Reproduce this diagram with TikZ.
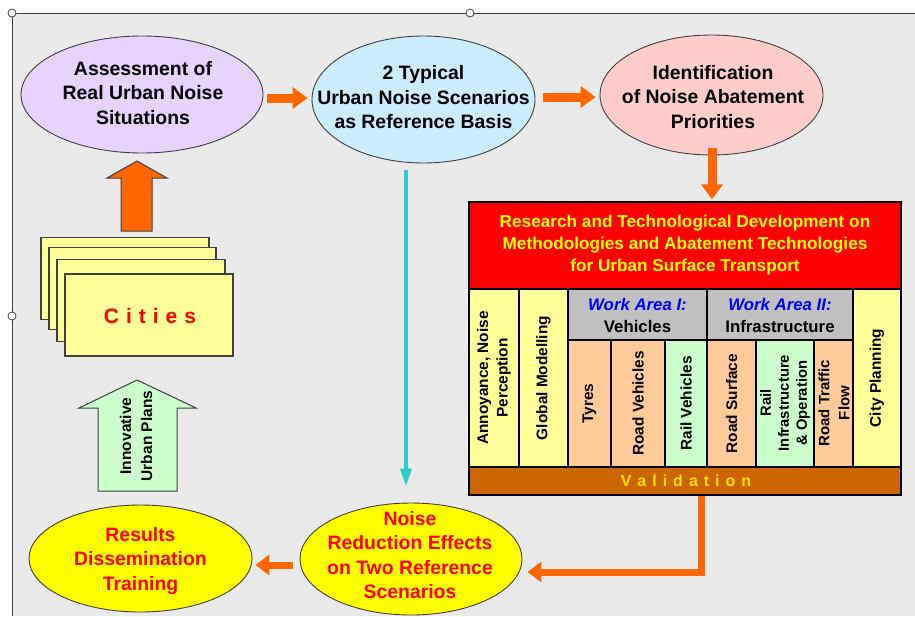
\documentclass[tikz,border=0pt]{standalone}
\usepackage{fontspec}
\setmainfont{Liberation Sans}
\usetikzlibrary{arrows.meta,shapes.geometric,calc}
\definecolor{bgc}{HTML}{EAEAEA}
\definecolor{framec}{HTML}{404040}
\definecolor{lavc}{HTML}{E8D2FF}
\definecolor{lbluec}{HTML}{CCECFF}
\definecolor{pinkc}{HTML}{FFCCCC}
\definecolor{yelc}{HTML}{FFFF00}
\definecolor{palec}{HTML}{FFFF99}
\definecolor{orngc}{HTML}{FFCC99}
\definecolor{grnc}{HTML}{CCFFCC}
\definecolor{gryc}{HTML}{C0C0C0}
\definecolor{brnc}{HTML}{CC6600}
\definecolor{oarrc}{HTML}{FF6600}
\definecolor{cyanc}{HTML}{33CCCC}
\definecolor{valc}{HTML}{FFE000}
\definecolor{wablue}{HTML}{0000FF}
\begin{document}
\begin{tikzpicture}[x=1pt,y=-1pt,
  ellshape/.style={ellipse, draw=framec, line width=0.9pt, inner sep=0pt},
  elltext/.style={align=center, inner sep=0pt, font=\fontsize{19.4}{24.5}\selectfont\bfseries},
  cell/.style={rectangle, draw=black, line width=1.3pt, inner sep=0pt},
  rottext/.style={rotate=90, align=center, inner sep=0pt, font=\fontsize{15.4}{19.5}\selectfont\bfseries},
  hdrtext/.style={align=center, inner sep=0pt, font=\fontsize{16.8}{22}\selectfont\bfseries},
  citybox/.style={rectangle, draw=framec, line width=1.1pt, fill=palec, minimum width=168, minimum height=82, inner sep=0pt},
  oarrow/.style={draw=oarrc, line width=9pt, -{Triangle[width=21pt,length=15pt]}},
  oarrowthin/.style={draw=oarrc, line width=7pt, -{Triangle[width=20pt,length=14pt]}},
  carrow/.style={draw=cyanc, line width=3.5pt, -{Triangle[width=11pt,length=18pt]}},
  handle/.style={circle, draw=framec, fill=white, line width=0.8pt, minimum size=8pt, inner sep=0pt}
]
\useasboundingbox (0,0) rectangle (915,616);
% background
\fill[bgc] (12,13) rectangle (915,616);
\draw[framec, line width=1pt] (12,616) -- (12,13) -- (915,13);
\node[handle] (h1) at (12,13) {};
\node[handle] (h2) at (470,13) {};
\node[handle] (h3) at (12,316) {};

% top ellipses
\node[ellshape, fill=lavc, minimum width=242, minimum height=117] (assess) at (142,94.5) {};
\node[elltext] (assessT) at (143,93) {Assessment of\\Real Urban Noise\\Situations};
\node[ellshape, fill=lbluec, minimum width=223, minimum height=127] (typical) at (423.5,99.5) {};
\node[elltext] (typicalT) at (423.5,97.5) {2 Typical\\Urban Noise Scenarios\\as Reference Basis};
\node[ellshape, fill=pinkc, minimum width=223, minimum height=120] (ident) at (711.5,95) {};
\node[elltext] (identT) at (713,97) {Identification\\of Noise Abatement\\Priorities};

% bottom ellipses
\node[ellshape, fill=yelc, minimum width=223, minimum height=107] (results) at (140.5,558.5) {};
\node[elltext, text=red] (resultsT) at (140.5,561) {Results\\Dissemination\\Training};
\node[ellshape, fill=yelc, minimum width=222, minimum height=112] (noise) at (411,559) {};
\node[elltext, text=red] (noiseT) at (410,555) {Noise\\Reduction Effects\\on Two Reference\\Scenarios};

% research box
\node[cell, fill=red, minimum width=432, minimum height=87] (rtd) at (685,245.5) {};
\node[align=center, inner sep=0pt, text=yelc, font=\fontsize{17.2}{22.4}\selectfont\bfseries] (rtdT) at (685,245) {Research and Technological Development on\\Methodologies and Abatement Technologies\\for Urban Surface Transport};

% columns
\node[cell, fill=palec, minimum width=50, minimum height=178] (c1) at (494,378) {};
\node[rottext] (c1T) at (c1) {Annoyance, Noise\\Perception};
\node[cell, fill=palec, minimum width=49, minimum height=178] (c2) at (543.5,378) {};
\node[rottext] (c2T) at (c2) {Global Modelling};
\node[cell, fill=gryc, minimum width=139, minimum height=51] (wa1) at (637.5,314.5) {};
\node[hdrtext] (wa1T) at (637.5,315) {\textcolor{wablue}{\itshape Work Area I:}\\Vehicles};
\node[cell, fill=gryc, minimum width=146, minimum height=51] (wa2) at (780,314.5) {};
\node[hdrtext] (wa2T) at (780,315) {\textcolor{wablue}{\itshape Work Area II:}\\Infrastructure};
\node[cell, fill=orngc, minimum width=43, minimum height=127] (tyres) at (589.5,403.5) {};
\node[rottext] (tyresT) at (tyres) {Tyres};
\node[cell, fill=orngc, minimum width=54, minimum height=127] (roadveh) at (638,403.5) {};
\node[rottext] (roadvehT) at (roadveh) {Road Vehicles};
\node[cell, fill=grnc, minimum width=42, minimum height=127] (railveh) at (686,403.5) {};
\node[rottext] (railvehT) at (railveh) {Rail Vehicles};
\node[cell, fill=orngc, minimum width=49, minimum height=127] (roadsurf) at (731.5,403.5) {};
\node[rottext] (roadsurfT) at (roadsurf) {Road Surface};
\node[cell, fill=grnc, minimum width=58, minimum height=127] (railinf) at (785,403.5) {};
\node[rottext, font=\fontsize{14.8}{18}\selectfont\bfseries] (railinfT) at (785,403) {Rail\\Infrastructure\\\& Operation};
\node[cell, fill=orngc, minimum width=39, minimum height=127] (traffic) at (833.5,403.5) {};
\node[rottext, font=\fontsize{15}{20}\selectfont\bfseries] (trafficT) at (834,403) {Road Traffic\\Flow};
\node[cell, fill=palec, minimum width=48, minimum height=178] (city) at (877,378) {};
\node[rottext] (cityT) at (city) {City Planning};
\node[cell, fill=brnc, minimum width=432, minimum height=28] (valid) at (685,481) {};
\node[inner sep=0pt, text=valc, font=\fontsize{16}{18}\selectfont\bfseries] (validT) at (686,481) {V\hspace{6pt}a\hspace{6pt}l\hspace{6pt}i\hspace{6pt}d\hspace{6pt}a\hspace{6pt}t\hspace{6pt}i\hspace{6pt}o\hspace{6pt}n};

% cities stack
\node[citybox] (city1) at (125,278.5) {};
\node[citybox, minimum width=167] (city2) at (132.5,288.5) {};
\node[citybox] (city3) at (141,300.5) {};
\node[citybox] (city4) at (149,315) {};
\node[inner sep=0pt, text=red, font=\fontsize{21}{24}\selectfont\bfseries] (citiesT) at (150,316) {C\hspace{7pt}i\hspace{7pt}t\hspace{7pt}i\hspace{7pt}e\hspace{7pt}s};

% block arrows
\draw[framec, line width=1pt, fill=oarrc] (121,231) -- (121,178) -- (107,178) -- (137,161) -- (167,178) -- (152,178) -- (152,231) -- cycle;
\draw[framec, line width=1pt, fill=grnc] (98,491) -- (98,408) -- (79,408) -- (137,380) -- (196,408) -- (177,408) -- (177,491) -- cycle;
\node[rotate=90, align=center, inner sep=0pt, font=\fontsize{15.5}{21}\selectfont\bfseries] (innovT) at (136,436) {Innovative\\Urban Plans};

% connectors
\draw[oarrow] ([xshift=4pt,yshift=-3.5pt]assess.east) -- ([xshift=-4pt,yshift=1.5pt]typical.west);
\draw[oarrow] ([xshift=8pt,yshift=2.5pt]typical.east) -- ([xshift=-4pt,yshift=-2pt]ident.west);
\draw[oarrow] ([xshift=0.5pt,yshift=7pt]ident.south) -- ([xshift=0.5pt,yshift=2pt]ident.south |- rtd.north);
\draw[carrow] ([xshift=-17.5pt,yshift=-7pt]typical.south) -- ([xshift=-5pt,yshift=16pt]noise.north);
\draw[oarrowthin] ([xshift=-7pt,yshift=-6pt]noise.west) -- ([xshift=3pt,yshift=-6.5pt]results.east);
\coordinate (elbow) at (701,572);
\draw[oarrowthin] (valid.south -| elbow) -- (elbow) -- ([xshift=5pt]noise.east |- elbow);
\end{tikzpicture}
\end{document}
